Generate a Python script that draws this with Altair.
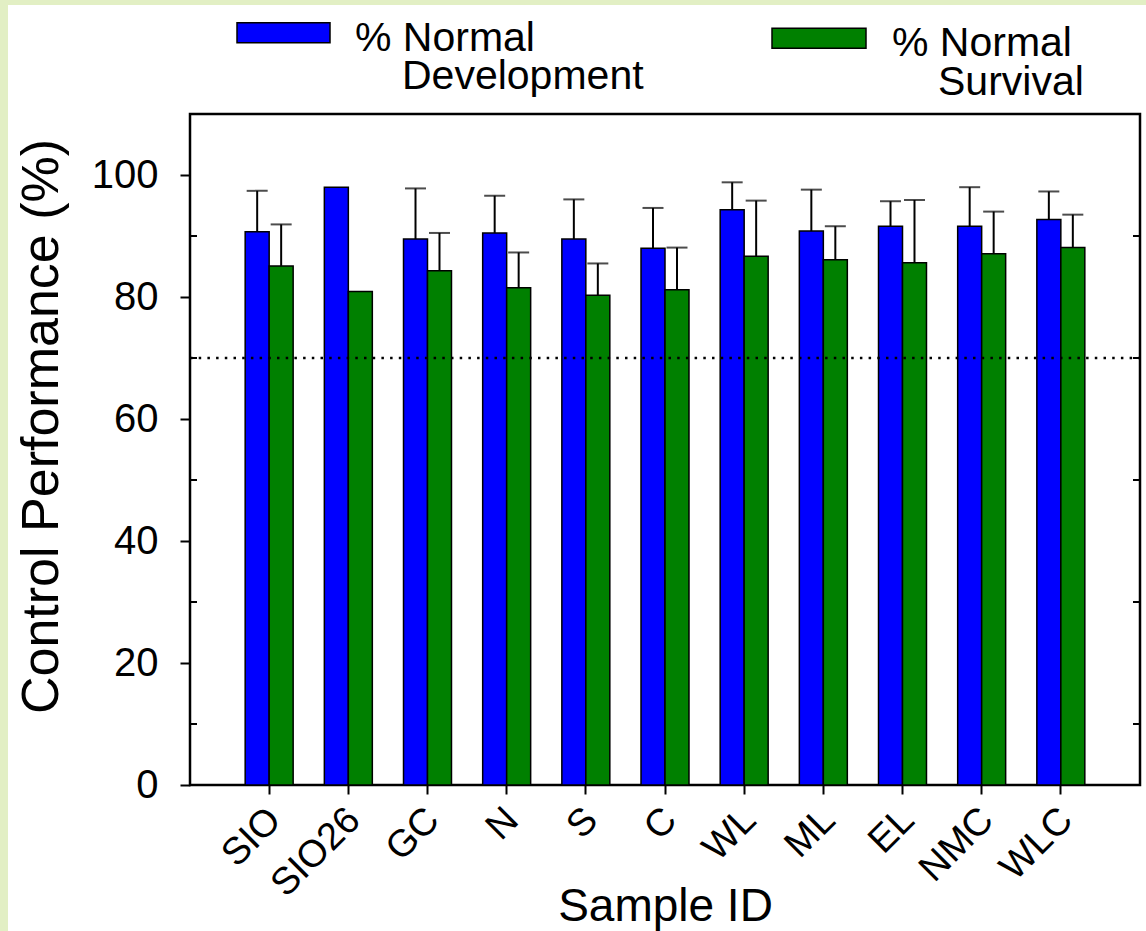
import altair as alt
import pandas as pd

# ---------------- data ----------------
samples = ["SIO", "SIO26", "GC", "N", "S", "C", "WL", "ML", "EL", "NMC", "WLC"]
dev_mean = [90.7, 98.0, 89.5, 90.5, 89.5, 88.0, 94.3, 90.8, 91.6, 91.6, 92.7]
dev_upper = [97.4, None, 97.8, 96.6, 96.0, 94.6, 98.8, 97.6, 95.7, 98.0, 97.3]
surv_mean = [85.1, 80.9, 84.3, 81.5, 80.3, 81.2, 86.7, 86.1, 85.6, 87.1, 88.1]
surv_upper = [91.9, None, 90.5, 87.3, 85.5, 88.1, 95.8, 91.6, 95.9, 94.0, 93.5]
series = ["Development", "Survival"]
colors = ["#0000ff", "#008000"]
threshold = [70]
y_ticks = [0, 20, 40, 60, 80, 100]
minor_ticks = [10, 30, 50, 70, 90]
legend_line1 = ["% Normal", "% Normal"]
legend_line2 = ["Development", "Survival"]

rows = []
for s, m, u in zip(samples, dev_mean, dev_upper):
    rows.append({"sample": s, "series": series[0], "value": m, "upper": u})
for s, m, u in zip(samples, surv_mean, surv_upper):
    rows.append({"sample": s, "series": series[1], "value": m, "upper": u})
df = pd.DataFrame(rows)
df_err = df.dropna(subset=["upper"])
df_thr = pd.DataFrame({"v": threshold})
df_minor = pd.DataFrame({"v": minor_ticks})
one = pd.DataFrame({"a": [0]})

FONT = "Liberation Sans"
W, H = 950, 671
FRAME = "#e2efc4"

yscale = alt.Scale(domain=[0, 110], nice=False, zero=True)
xscale = alt.Scale(paddingInner=0.394, paddingOuter=0.697)
offscale = alt.Scale(paddingInner=0, paddingOuter=0)

yaxis = alt.Axis(values=y_ticks, title="Control Performance (%)", titleFont=FONT,
                 titleFontSize=52, titleFontWeight="normal", titleColor="black",
                 titleX=-149, titleY=312, titleBaseline="middle", titleAlign="center",
                 labelFont=FONT, labelFontSize=40, labelColor="black", labelPadding=22,
                 tickSize=10, tickWidth=2, tickColor="black", domain=False, grid=False, zindex=1)
xaxis = alt.Axis(title="Sample ID", titleFont=FONT, titleFontSize=46,
                 titleFontWeight="normal", titleColor="black", titleY=135,
                 titleBaseline="alphabetic",
                 labelFont=FONT, labelFontSize=38, labelColor="black", labelAngle=-45,
                 labelAlign="right", labelBaseline="middle", labelPadding=20, labelOffset=6,
                 tickSize=9, tickWidth=2, tickColor="black", domain=False, grid=False, zindex=1)

X = alt.X("sample:N", sort=samples, scale=xscale, axis=xaxis)
XO = alt.XOffset("series:N", sort=series, scale=offscale)

# pale green frame strips (left and top edges of the picture)
frame_left = alt.Chart(one).mark_rect(fill=FRAME, clip=False).encode(
    x=alt.value(-190), x2=alt.value(-182), y=alt.value(-114), y2=alt.value(817))
frame_top = alt.Chart(one).mark_rect(fill=FRAME, clip=False).encode(
    x=alt.value(-190), x2=alt.value(956), y=alt.value(-114), y2=alt.value(-109))

bars = alt.Chart(df).mark_bar(stroke="black", strokeWidth=1.5).encode(
    x=X, xOffset=XO,
    y=alt.Y("value:Q", scale=yscale, axis=yaxis),
    color=alt.Color("series:N", scale=alt.Scale(domain=series, range=colors), legend=None),
)

err = alt.Chart(df_err).mark_rule(color="black", strokeWidth=2).encode(
    x=X, xOffset=XO,
    y=alt.Y("value:Q", scale=yscale, axis=yaxis), y2="upper:Q")

caps = alt.Chart(df_err).mark_tick(color="black", thickness=2, size=21, orient="horizontal").encode(
    x=X, xOffset=XO,
    y=alt.Y("upper:Q", scale=yscale, axis=yaxis))

thr = alt.Chart(df_thr).mark_rule(color="black", strokeWidth=2.5, strokeDash=[2.5, 6.2]).encode(
    y=alt.Y("v:Q", scale=yscale, axis=yaxis), x=alt.value(0), x2=alt.value(W))

minor_l = alt.Chart(df_minor).mark_rule(color="black", strokeWidth=2).encode(
    y=alt.Y("v:Q", scale=yscale, axis=yaxis), x=alt.value(0), x2=alt.value(7))
minor_r = alt.Chart(df_minor).mark_rule(color="black", strokeWidth=2).encode(
    y=alt.Y("v:Q", scale=yscale, axis=yaxis), x=alt.value(W - 7), x2=alt.value(W))

# legend (manually placed, above the plot)
leg_pos = [
    {"sx": 47, "sx2": 140, "sy": -91.3, "tx1": 165, "ty1": -63, "tx2": 212, "ty2": -25},
    {"sx": 582, "sx2": 676, "sy": -85.7, "tx1": 702, "ty1": -58, "tx2": 748, "ty2": -19},
]
legend_layers = []
for i, p in enumerate(leg_pos):
    legend_layers.append(alt.Chart(one).mark_rect(fill=colors[i], stroke="black", strokeWidth=1.5, clip=False).encode(
        x=alt.value(p["sx"]), x2=alt.value(p["sx2"]), y=alt.value(p["sy"]), y2=alt.value(p["sy"] + 20)))
    legend_layers.append(alt.Chart(one).mark_text(text=legend_line1[i], font=FONT, fontSize=41, align="left",
                                                  baseline="alphabetic", color="black").encode(
        x=alt.value(p["tx1"]), y=alt.value(p["ty1"])))
    legend_layers.append(alt.Chart(one).mark_text(text=legend_line2[i], font=FONT, fontSize=41, align="left",
                                                  baseline="alphabetic", color="black").encode(
        x=alt.value(p["tx2"]), y=alt.value(p["ty2"])))

chart = alt.layer(frame_left, frame_top, bars, err, caps, thr, minor_l, minor_r, *legend_layers).properties(
    width=W, height=H,
    autosize=alt.AutoSizeParams(type="none"),
    padding={"left": 190, "top": 114, "right": 6, "bottom": 146},
    background="white",
).configure_view(stroke="black", strokeWidth=2.5)

chart.save("out.html", embed_options={"renderer": "svg", "actions": False})
